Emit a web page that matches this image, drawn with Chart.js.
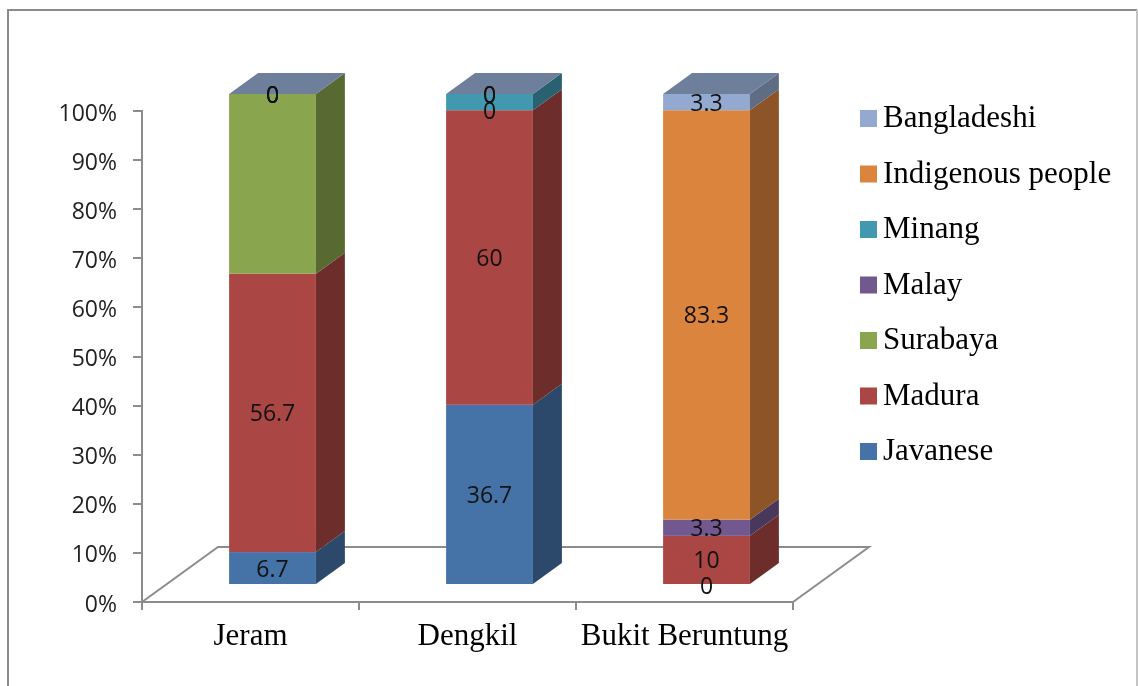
<!DOCTYPE html>
<html><head><meta charset="utf-8">
<script src="https://cdn.jsdelivr.net/npm/chart.js@4.4.1/dist/chart.umd.min.js"></script>
<style>html,body{margin:0;padding:0;background:#fff}canvas{display:block}</style>
</head><body>
<canvas id="c" width="1138" height="686"></canvas>
<script>
// ---- data ----
const categories = ['Jeram', 'Dengkil', 'Bukit Beruntung'];
const javanese   = [6.7, 36.7, 0];
const madura     = [56.7, 60, 10];
const surabaya   = [36.6, 0, 0];
const malay      = [0, 0, 3.3];
const minang     = [0, 3.3, 0];
const indigenous = [0, 0, 83.3];
const bangladeshi= [0, 0, 3.3];
const seriesNames = ['Javanese', 'Madura', 'Surabaya', 'Malay', 'Minang', 'Indigenous people', 'Bangladeshi'];
const seriesValues = [javanese, madura, surabaya, malay, minang, indigenous, bangladeshi];
const seriesLabelled = [true, true, false, true, false, true, true];
const yTickValues = [0, 10, 20, 30, 40, 50, 60, 70, 80, 90, 100];

// ---- style ----
const seriesColors = ['#4572A7', '#AA4643', '#89A54E', '#71588F', '#4198AF', '#DB843D', '#93A9CF'];
const BAR = {dx: 22, dy: -17};     // bar plane offset from axis plane
const DEPTH = {dx: 29, dy: -21};   // bar depth
const FLOOR = {dx: 76, dy: -55};   // floor depth
const AXIS_COLOR = '#8c8c8c';

function shade(hex, f) {
  const n = parseInt(hex.slice(1), 16);
  const r = Math.round(((n >> 16) & 255) * f), g = Math.round(((n >> 8) & 255) * f), b = Math.round((n & 255) * f);
  return `rgb(${r},${g},${b})`;
}

const totals = categories.map((_, j) => seriesValues.reduce((s, arr) => s + arr[j], 0));

const datasets = seriesNames.map((name, i) => ({
  label: name,
  data: seriesValues[i].map((v, j) => v / totals[j] * 100),
  rawValues: seriesValues[i],
  showValue: seriesLabelled[i],
  backgroundColor: seriesColors[i],
  barPercentage: 0.4,
  categoryPercentage: 1
}));

const threeD = {
  id: 'threeD',
  beforeDraw(chart) {
    const ctx = chart.ctx;
    ctx.save();
    ctx.fillStyle = '#fff';
    ctx.fillRect(0, 0, chart.width, chart.height);
    ctx.lineWidth = 2;
    ctx.strokeStyle = '#8a8a8a';
    ctx.beginPath(); ctx.moveTo(8, 700); ctx.lineTo(8, 10); ctx.lineTo(1137, 10); ctx.stroke();
    ctx.strokeStyle = '#c4c4c4';
    ctx.beginPath(); ctx.moveTo(1137, 10); ctx.lineTo(1137, 700); ctx.stroke();
    ctx.restore();
  },
  beforeDatasetsDraw(chart) {
    const ctx = chart.ctx, a = chart.chartArea;
    ctx.save();
    // floor
    ctx.strokeStyle = AXIS_COLOR; ctx.lineWidth = 2;
    ctx.beginPath();
    ctx.moveTo(a.left, a.bottom);
    ctx.lineTo(a.left + FLOOR.dx, a.bottom + FLOOR.dy);
    ctx.lineTo(a.right + FLOOR.dx, a.bottom + FLOOR.dy);
    ctx.lineTo(a.right, a.bottom);
    ctx.stroke();
    // bars
    const nds = chart.data.datasets.length;
    chart.data.datasets.forEach((ds, i) => {
      const meta = chart.getDatasetMeta(i);
      const col = ds.backgroundColor;
      meta.data.forEach((el) => {
        const p = el.getProps(['x', 'y', 'base', 'width'], true);
        const L = p.x - p.width / 2 + BAR.dx, R = p.x + p.width / 2 + BAR.dx;
        const T = p.y + BAR.dy, B = p.base + BAR.dy;
        ctx.fillStyle = col;
        ctx.fillRect(L, T, R - L, B - T);
        ctx.fillStyle = shade(col, 0.64);
        ctx.beginPath();
        ctx.moveTo(R, T); ctx.lineTo(R + DEPTH.dx, T + DEPTH.dy);
        ctx.lineTo(R + DEPTH.dx, B + DEPTH.dy); ctx.lineTo(R, B); ctx.closePath();
        ctx.fill();
        if (i === nds - 1) {
          ctx.fillStyle = shade(col, 0.75);
          ctx.beginPath();
          ctx.moveTo(L, T); ctx.lineTo(L + DEPTH.dx, T + DEPTH.dy);
          ctx.lineTo(R + DEPTH.dx, T + DEPTH.dy); ctx.lineTo(R, T); ctx.closePath();
          ctx.fill();
        }
      });
    });
    ctx.restore();
    return false;
  },
  afterDraw(chart) {
    const ctx = chart.ctx;
    ctx.save();
    // value labels
    ctx.font = '23px "Open Sans"';
    ctx.fillStyle = '#111';
    ctx.textAlign = 'center';
    ctx.textBaseline = 'middle';
    chart.data.datasets.forEach((ds, i) => {
      if (!ds.showValue) return;
      const meta = chart.getDatasetMeta(i);
      meta.data.forEach((el, j) => {
        const p = el.getProps(['x', 'y', 'base'], true);
        ctx.fillText(String(ds.rawValues[j]), p.x + BAR.dx, (p.y + p.base) / 2 + BAR.dy + 2);
      });
    });
    // legend (reverse order)
    ctx.textAlign = 'left';
    ctx.textBaseline = 'alphabetic';
    ctx.font = '31px "Liberation Serif"';
    const dsl = chart.data.datasets.slice().reverse();
    dsl.forEach((ds, k) => {
      const top = 110 + k * 55.5;
      ctx.fillStyle = ds.backgroundColor;
      ctx.fillRect(860, top, 17, 17);
      ctx.fillStyle = '#000';
      ctx.fillText(ds.label, 883, top + 17);
    });
    ctx.restore();
  }
};

function build() {
  new Chart(document.getElementById('c'), {
    type: 'bar',
    data: { labels: categories, datasets },
    plugins: [threeD],
    options: {
      responsive: false,
      animation: false,
      events: [],
      layout: { padding: { left: 8, top: 111, right: 345, bottom: 0 } },
      plugins: { legend: { display: false }, tooltip: { enabled: false } },
      scales: {
        x: {
          stacked: true,
          offset: true,
          afterFit(s) { s.height = 84; },
          ticks: { maxRotation: 0, minRotation: 0, autoSkip: false, padding: 8,
                   font: { family: 'Liberation Serif', size: 31 }, color: '#000' },
          grid: { offset: true, drawOnChartArea: false, tickLength: 8, color: AXIS_COLOR, lineWidth: 2 },
          border: { color: AXIS_COLOR, width: 2 }
        },
        y: {
          stacked: true,
          min: 0, max: 100,
          afterFit(s) { s.width = 134; },
          afterBuildTicks(s) { s.ticks = yTickValues.map(v => ({ value: v })); },
          ticks: { padding: 16, labelOffset: 3, callback: v => v + '%',
                   font: { family: 'Open Sans', size: 23 }, color: '#222' },
          grid: { drawOnChartArea: false, tickLength: 9, color: AXIS_COLOR, lineWidth: 2 },
          border: { color: AXIS_COLOR, width: 2 }
        }
      }
    }
  });
}
Promise.all([
  document.fonts.load('23px "Open Sans"'),
  document.fonts.load('31px "Liberation Serif"')
]).then(build, build);
</script>
</body></html>
